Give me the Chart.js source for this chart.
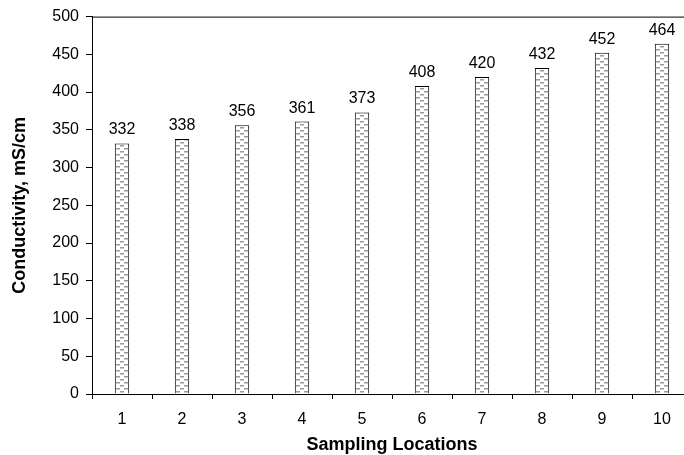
<!DOCTYPE html>
<html>
<head>
<meta charset="utf-8">
<script src="https://cdn.jsdelivr.net/npm/chart.js@4/dist/chart.umd.min.js"></script>
<style>
  html, body { margin: 0; padding: 0; background: #fff; overflow: hidden; }
  #wrap { width: 700px; height: 456px; }
</style>
</head>
<body>
<div id="wrap"><canvas id="chart" width="700" height="456"></canvas></div>
<script>
const locations = ["1", "2", "3", "4", "5", "6", "7", "8", "9", "10"];
const conductivity = [332, 338, 356, 361, 373, 408, 420, 432, 452, 464];
const yTicks = [0, 50, 100, 150, 200, 250, 300, 350, 400, 450, 500];

const FONT = "Arial, 'Liberation Sans', sans-serif";

// hatched fill like the old spreadsheet pattern
function makePattern() {
  const c = document.createElement("canvas");
  c.width = 8;
  c.height = 6;
  const g = c.getContext("2d");
  g.fillStyle = "#ffffff";
  g.fillRect(0, 0, 8, 6);
  g.fillStyle = "#9a9a9a";
  g.fillRect(0, 1, 4, 1.5);
  g.fillRect(4, 4, 4, 1.5);
  return g.createPattern(c, "repeat");
}

const valueLabels = {
  id: "valueLabels",
  afterDatasetsDraw(chart) {
    const ctx = chart.ctx;
    const meta = chart.getDatasetMeta(0);
    ctx.save();
    ctx.font = "16px " + FONT;
    ctx.fillStyle = "#000";
    ctx.textAlign = "center";
    ctx.textBaseline = "alphabetic";
    meta.data.forEach((bar, i) => {
      ctx.fillText(conductivity[i], bar.x, bar.y - 9);
    });
    ctx.restore();
  }
};

const topBorder = {
  id: "topBorder",
  afterDraw(chart) {
    const { ctx, chartArea } = chart;
    ctx.save();
    ctx.strokeStyle = "#000";
    ctx.lineWidth = 1;
    ctx.beginPath();
    ctx.moveTo(chartArea.left, chartArea.top + 0.5);
    ctx.lineTo(chartArea.right, chartArea.top + 0.5);
    ctx.stroke();
    ctx.restore();
  }
};

new Chart(document.getElementById("chart"), {
  type: "bar",
  data: {
    labels: locations,
    datasets: [{
      data: conductivity,
      backgroundColor: makePattern(),
      borderColor: "#000",
      borderWidth: 1,
      categoryPercentage: 1,
      barPercentage: 0.24
    }]
  },
  options: {
    responsive: false,
    animation: false,
    layout: { padding: { top: 16, right: 8, left: 0, bottom: 0 } },
    plugins: {
      legend: { display: false },
      tooltip: { enabled: false }
    },
    scales: {
      x: {
        offset: true,
        afterFit(axis) { axis.height = 62; },
        grid: {
          offset: true,
          drawOnChartArea: false,
          drawTicks: true,
          tickLength: 5,
          color: "#000"
        },
        border: { color: "#000", width: 1 },
        ticks: {
          color: "#000",
          padding: 11,
          font: { family: FONT, size: 16 }
        },
        title: {
          display: true,
          text: "Sampling Locations",
          color: "#000",
          padding: { top: 4, bottom: 0 },
          font: { family: FONT, size: 18, weight: "bold" }
        }
      },
      y: {
        min: 0,
        max: 500,
        afterFit(axis) { axis.width = 92; },
        afterBuildTicks(axis) {
          axis.ticks = yTicks.map(v => ({ value: v }));
        },
        grid: {
          drawOnChartArea: false,
          drawTicks: true,
          tickLength: 6,
          color: "#000"
        },
        border: { color: "#000", width: 1 },
        ticks: {
          color: "#000",
          padding: 7,
          font: { family: FONT, size: 16 }
        },
        title: {
          display: true,
          text: "Conductivity, mS/cm",
          color: "#000",
          padding: { top: 9, bottom: 0 },
          font: { family: FONT, size: 18, weight: "bold" }
        }
      }
    }
  },
  plugins: [valueLabels, topBorder]
});
</script>
</body>
</html>
